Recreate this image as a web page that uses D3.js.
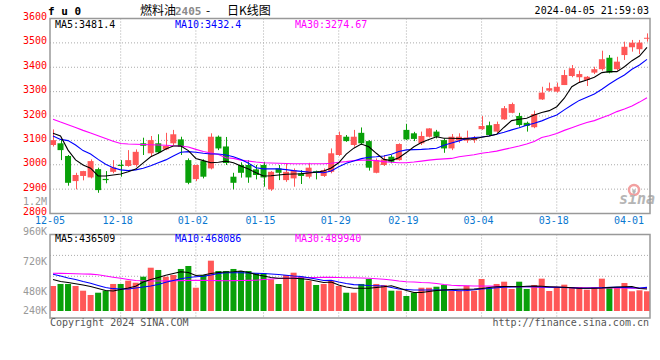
<!DOCTYPE html>
<html><head><meta charset="utf-8">
<script src="https://cdn.jsdelivr.net/npm/d3@7"></script>
<style>body{margin:0;background:#fff;}text{font-family:"DejaVu Sans Mono",monospace;}</style>
</head><body>
<script>
const dates = ["12-05","12-06","12-07","12-08","12-11","12-12","12-13","12-14","12-15","12-18","12-19","12-20","12-21","12-22","12-25","12-26","12-27","12-28","12-29",
"01-02","01-03","01-04","01-05","01-08","01-09","01-10","01-11","01-12","01-15","01-16","01-17","01-18","01-19","01-22","01-23","01-24","01-25","01-26","01-29","01-30","01-31",
"02-01","02-02","02-05","02-06","02-07","02-08","02-19","02-20","02-21","02-22","02-23","02-26","02-27","02-28","02-29",
"03-01","03-04","03-05","03-06","03-07","03-08","03-11","03-12","03-13","03-14","03-15","03-18","03-19","03-20","03-21","03-22","03-25","03-26","03-27","03-28","03-29",
"04-01","04-02","04-03"];
const tickLabels = ["12-05","12-18","01-02","01-15","01-29","02-19","03-04","03-18","04-01"];
const gridDates = ["12-18","01-02","01-15","01-29","02-19","03-04","03-18"];
const priceTicks = [3600,3500,3400,3300,3200,3100,3000,2900,2800];
const priceGrid = [3500,3400,3300,3200,3100,3000,2900];
const volTickLabels = ["960K","720K","480K","240K"];
const volTickValues = [960000,720000,480000,240000];

const open  = [3081,3088,3036,2933,2954,2948,2982,2942,2971,3000,2995,2999,3088,3047,3088,3063,3088,3104,3019,2941,3015,2985,3115,3075,2951,2999,2999,2981,2999,2899,2985,2937,2944,2965,2951,2974,2954,2971,3040,3115,3081,3131,3097,2967,2999,3033,3019,3143,3129,3088,3115,3136,3101,3067,3099,3099,3101,3146,3162,3136,3186,3213,3200,3172,3154,3268,3304,3300,3327,3364,3359,3348,3378,3392,3439,3392,3450,3482,3474,3519];
const high  = [3145,3104,3040,2967,2975,3022,2988,2974,3019,3019,3060,3063,3111,3118,3125,3131,3143,3115,3026,3000,3022,3129,3120,3114,2967,3010,3019,2999,3012,2974,2999,3006,2985,2978,3008,2976,2985,3067,3136,3122,3143,3153,3101,3026,3040,3040,3088,3167,3135,3136,3150,3143,3108,3126,3129,3140,3118,3200,3177,3177,3241,3255,3213,3177,3222,3320,3337,3337,3389,3409,3386,3364,3402,3468,3450,3443,3505,3512,3512,3539];
const low   = [3075,3019,2914,2899,2936,2944,2885,2924,2965,2951,2992,2992,3040,3033,3047,3060,3081,3040,2920,2933,2944,2981,3060,2999,2899,2947,2926,2940,2910,2893,2937,2930,2910,2921,2944,2940,2950,2965,3036,3094,3074,3081,2976,2965,2995,3006,3017,3101,3097,3081,3112,3108,3049,3060,3090,3090,3090,3143,3118,3131,3184,3211,3156,3136,3150,3266,3300,3296,3327,3359,3337,3323,3372,3386,3375,3386,3430,3464,3454,3505];
const close = [3101,3060,2926,2958,2974,3015,2896,2937,2989,2995,3019,3053,3078,3101,3051,3077,3125,3074,2926,2999,2951,3115,3067,3007,2926,2967,2948,2958,2948,2971,2967,2971,2978,2954,2988,2967,2978,3047,3122,3097,3115,3088,2988,3019,3022,3012,3085,3104,3106,3118,3149,3115,3067,3115,3115,3112,3108,3159,3122,3167,3232,3249,3163,3159,3208,3296,3314,3320,3368,3396,3372,3361,3392,3433,3378,3423,3484,3501,3501,3521];

const ma5  = [3129,3118,3060,3020,2999,2986,2954,2954,2958,2962,2971,2982,3008,3033,3047,3065,3077,3077,3058,3026,3017,3008,3010,3015,3008,2995,2983,2967,2954,2955,2958,2961,2962,2963,2966,2969,2974,2987,3008,3044,3068,3085,3074,3047,3022,3017,3029,3050,3074,3091,3104,3115,3109,3109,3108,3106,3106,3113,3118,3125,3154,3181,3187,3191,3204,3214,3222,3238,3273,3320,3338,3348,3359,3378,3382,3382,3402,3427,3446,3481.4];
const ma10 = [3118,3104,3099,3081,3058,3044,3022,3002,2988,2979,2976,2979,2986,2996,3008,3020,3036,3051,3054,3051,3047,3044,3044,3040,3033,3022,3006,2988,2983,2983,2983,2980,2976,2973,2970,2969,2967,2974,2992,3006,3015,3025,3031,3033,3036,3043,3054,3061,3062,3063,3065,3068,3080,3089,3098,3108,3112,3114,3118,3125,3133,3143,3152,3162,3170,3180,3193,3204,3225,3245,3264,3277,3290,3310,3331,3351,3368,3392,3409,3432.4];
const ma30 = [3187,3175,3164,3153,3141,3130,3119,3108,3096,3087,3085,3084,3083,3082,3081,3080,3078,3077,3073,3063,3054,3048,3042,3029,3026,3019,3015,3011,3008,3007,3006,3005,3004,3004,3004,3004,3004,3006,3010,3013,3017,3019,3019,3017,3013,3010,3008,3008,3011,3015,3019,3022,3024,3026,3033,3037,3041,3047,3051,3056,3063,3070,3077,3085,3095,3112,3119,3128,3141,3152,3163,3173,3181,3193,3204,3218,3229,3241,3257,3274.67];

const volume = [495e3,535e3,535e3,495e3,402e3,317e3,362e3,402e3,535e3,535e3,600e3,560e3,679e3,857e3,812e3,679e3,713e3,832e3,891e3,461e3,713e3,996e3,792e3,792e3,832e3,792e3,792e3,746e3,746e3,628e3,535e3,713e3,758e3,679e3,600e3,515e3,535e3,594e3,495e3,362e3,362e3,535e3,634e3,535e3,515e3,402e3,402e3,297e3,362e3,461e3,461e3,481e3,515e3,402e3,402e3,501e3,402e3,634e3,461e3,535e3,580e3,436e3,580e3,436e3,515e3,640e3,396e3,475e3,521e3,475e3,475e3,422e3,475e3,640e3,455e3,475e3,554e3,390e3,410e3,390e3];
const volMa5  = [624e3,584e3,564e3,541e3,515e3,485e3,446e3,406e3,396e3,426e3,455e3,489e3,574e3,624e3,663e3,707e3,743e3,776e3,762e3,703e3,713e3,743e3,762e3,772e3,778e3,792e3,762e3,723e3,693e3,663e3,647e3,647e3,647e3,638e3,624e3,594e3,564e3,574e3,515e3,475e3,449e3,449e3,449e3,465e3,481e3,501e3,455e3,406e3,366e3,366e3,386e3,406e3,416e3,426e3,430e3,430e3,436e3,446e3,465e3,481e3,485e3,485e3,481e3,489e3,495e3,489e3,481e3,475e3,469e3,461e3,449e3,449e3,449e3,455e3,465e3,475e3,481e3,485e3,446e3,436509];
const volMa10 = [729e3,693e3,653e3,624e3,584e3,548e3,505e3,465e3,442e3,436e3,436e3,455e3,475e3,495e3,525e3,568e3,604e3,638e3,663e3,679e3,689e3,713e3,743e3,756e3,758e3,758e3,752e3,746e3,743e3,733e3,721e3,707e3,693e3,683e3,659e3,634e3,604e3,610e3,574e3,545e3,523e3,515e3,505e3,499e3,495e3,465e3,436e3,426e3,416e3,416e3,416e3,416e3,416e3,410e3,402e3,406e3,422e3,436e3,446e3,459e3,469e3,475e3,479e3,481e3,481e3,475e3,471e3,469e3,465e3,459e3,451e3,449e3,455e3,461e3,467e3,469e3,465e3,459e3,455e3,468086];
const volMa30 = [746e3,744e3,741e3,737e3,733e3,729e3,717e3,693e3,669e3,647e3,624e3,604e3,598e3,594e3,594e3,596e3,598e3,602e3,606e3,608e3,606e3,604e3,602e3,600e3,602e3,604e3,606e3,610e3,624e3,634e3,644e3,647e3,653e3,657e3,661e3,663e3,665e3,667e3,663e3,659e3,657e3,653e3,647e3,638e3,628e3,614e3,594e3,580e3,574e3,564e3,558e3,545e3,525e3,509e3,503e3,499e3,495e3,495e3,493e3,489e3,485e3,483e3,481e3,479e3,475e3,471e3,469e3,467e3,465e3,463e3,461e3,461e3,461e3,459e3,457e3,455e3,455e3,453e3,451e3,449e3];

const legendPrice = [["MA5:3481.4","#000"],["MA10:3432.4","#0000ff"],["MA30:3274.67","#ff00ff"]];
const legendVol = [["MA5:436509","#000"],["MA10:468086","#0000ff"],["MA30:489940","#ff00ff"]];

const RED = "#ff5757", GREEN = "#09a009", GRID = "#aaa", BORDER = "#999";
const W = 660, H = 360;
const svg = d3.select("body").append("svg").attr("width", W).attr("height", H);

const x = d3.scaleBand().domain(dates).range([50, 650]).paddingInner(0.2).paddingOuter(0);
const bw = x.bandwidth();
const cx = d => x(d) + bw / 2;
const y = d3.scaleLinear().domain([2800, 3600]).range([213.5, 18.5]);
const vy = d3.scaleLinear().domain([0, 1540000]).range([311, 233.2]);
const vLabelY = d3.scaleLinear().domain([240000, 960000]).range([321, 231]);
const volTop = 234.5, volBottom = 318;

// ---------- grids ----------
const g = svg.append("g");
g.selectAll(".hg").data(priceGrid).join("line")
  .attr("x1", 50).attr("x2", 650).attr("y1", d => y(d)).attr("y2", d => y(d))
  .attr("stroke", GRID).attr("stroke-dasharray", "1,2");
g.selectAll(".vg").data(gridDates).join("line")
  .attr("x1", d => cx(d)).attr("x2", d => cx(d)).attr("y1", y(3600)).attr("y2", y(2800))
  .attr("stroke", GRID).attr("stroke-dasharray", "1,2");
const volGridFrac = [0.25, 0.5];
g.selectAll(".vhg").data(volGridFrac).join("line")
  .attr("x1", 50).attr("x2", 650)
  .attr("y1", d => volTop + d * (volBottom - volTop)).attr("y2", d => volTop + d * (volBottom - volTop))
  .attr("stroke", GRID).attr("stroke-dasharray", "1,2");
g.selectAll(".vvg").data(gridDates).join("line")
  .attr("x1", d => cx(d)).attr("x2", d => cx(d)).attr("y1", volTop).attr("y2", volBottom)
  .attr("stroke", GRID).attr("stroke-dasharray", "1,2");

// ---------- watermark ----------
const wm = svg.append("g");
wm.append("circle").attr("cx", 634).attr("cy", 190).attr("r", 5).attr("fill", "none").attr("stroke", "#f2a0a0").attr("stroke-width", 2.5);
wm.append("circle").attr("cx", 634).attr("cy", 191).attr("r", 1.8).attr("fill", "#bbb");
wm.append("text").attr("x", 619).attr("y", 204).attr("font-family", "DejaVu Sans")
  .attr("font-style", "italic").attr("font-weight", "bold").attr("font-size", 15).attr("fill", "#b5b5b5").text("sina");

// ---------- candles ----------
const idx = d3.range(dates.length);
const cg = svg.append("g");
cg.selectAll(".wick").data(idx).join("line")
  .attr("x1", i => Math.round(cx(dates[i])) + 0.5).attr("x2", i => Math.round(cx(dates[i])) + 0.5)
  .attr("y1", i => y(high[i])).attr("y2", i => y(low[i]))
  .attr("stroke", i => close[i] >= open[i] ? RED : GREEN).attr("stroke-width", 1);
cg.selectAll(".body").data(idx).join("rect")
  .attr("x", i => x(dates[i])).attr("width", bw)
  .attr("y", i => y(Math.max(open[i], close[i])))
  .attr("height", i => Math.max(1, Math.abs(y(open[i]) - y(close[i]))))
  .attr("fill", i => close[i] >= open[i] ? RED : GREEN);

const line = d3.line().x((v, i) => cx(dates[i])).y(v => y(v));
[[ma30, "#ff00ff"], [ma10, "#0000ff"], [ma5, "#000"]].forEach(([arr, c]) => {
  svg.append("path").attr("d", line(arr)).attr("fill", "none").attr("stroke", c).attr("stroke-width", 1.1);
});

// ---------- volume ----------
svg.append("g").selectAll("rect").data(idx).join("rect")
  .attr("x", i => x(dates[i])).attr("width", bw)
  .attr("y", i => vy(volume[i])).attr("height", i => vy(0) - vy(volume[i]))
  .attr("fill", i => close[i] >= open[i] ? RED : GREEN);
const vline = d3.line().x((v, i) => cx(dates[i])).y(v => vy(v));
[[volMa30, "#ff00ff"], [volMa10, "#0000ff"], [volMa5, "#000"]].forEach(([arr, c]) => {
  svg.append("path").attr("d", vline(arr)).attr("fill", "none").attr("stroke", c).attr("stroke-width", 1.1);
});

// ---------- borders ----------
svg.append("rect").attr("x", 50).attr("y", y(3600)).attr("width", 600).attr("height", y(2800) - y(3600))
  .attr("fill", "none").attr("stroke", BORDER).attr("stroke-width", 1.5);
svg.append("rect").attr("x", 50).attr("y", volTop).attr("width", 600).attr("height", volBottom - volTop)
  .attr("fill", "none").attr("stroke", BORDER).attr("stroke-width", 1.5);

// ---------- axis labels ----------
svg.append("g").selectAll("text").data(priceTicks).join("text")
  .attr("x", 47).attr("y", d => y(d) + 1.5).attr("text-anchor", "end").attr("font-size", 10)
  .attr("fill", "#f00").text(d => d);
svg.append("text").attr("x", 47).attr("y", y(2850) + 3.5).attr("text-anchor", "end").attr("font-size", 10)
  .attr("fill", "#999").text("1.2M");
svg.append("g").selectAll("text").data(volTickValues).join("text")
  .attr("x", 47).attr("y", d => Math.min(310, vLabelY(d)) + 3.5).attr("text-anchor", "end").attr("font-size", 10)
  .attr("fill", "#999").text((d, i) => volTickLabels[i]);
svg.append("g").selectAll("text").data(tickLabels).join("text")
  .attr("x", d => cx(d) - 3).attr("y", 224).attr("text-anchor", "middle").attr("font-size", 10)
  .attr("fill", "#0a78d0").text(d => d);

// ---------- legends ----------
const legX = [55, 175, 295];
svg.append("g").selectAll("text").data(legendPrice).join("text")
  .attr("x", (d, i) => legX[i]).attr("y", 27.5).attr("font-size", 10).attr("fill", d => d[1]).text(d => d[0]);
svg.append("g").selectAll("text").data(legendVol).join("text")
  .attr("x", (d, i) => legX[i]).attr("y", 242).attr("font-size", 10).attr("fill", d => d[1]).text(d => d[0]);

// ---------- header ----------
svg.append("text").attr("x", 48).attr("y", 15).attr("font-size", 11).attr("font-weight", "bold")
  .attr("font-family", "Liberation Mono").attr("fill", "#000").style("white-space", "pre").text("f u 0");
const cjk = "'Noto Sans CJK SC', sans-serif";
svg.append("text").attr("x", 140).attr("y", 15).attr("font-size", 12).style("font-family", cjk).attr("fill", "#000").text("燃料油");
svg.append("text").attr("x", 175).attr("y", 15).attr("font-size", 11).style("font-family", "'DejaVu Sans Mono'").attr("font-weight", "bold").attr("fill", "#8a8a8a").text("2405");
svg.append("text").attr("x", 206).attr("y", 15).attr("font-size", 12).style("font-family", cjk).attr("fill", "#000").text("-");
svg.append("text").attr("x", 227).attr("y", 15).attr("font-size", 12).style("font-family", cjk).attr("fill", "#000").text("日K线图");
svg.append("text").attr("x", 649).attr("y", 14).attr("text-anchor", "end").attr("font-size", 10).attr("fill", "#000").text("2024-04-05 21:59:03");

// ---------- footer ----------
svg.append("text").attr("x", 50).attr("y", 326).attr("font-size", 10).attr("fill", "#555").text("Copyright 2024 SINA.COM");
svg.append("text").attr("x", 649).attr("y", 326).attr("text-anchor", "end").attr("font-size", 10).attr("fill", "#555").text("http://finance.sina.com.cn");
</script>
</body></html>
